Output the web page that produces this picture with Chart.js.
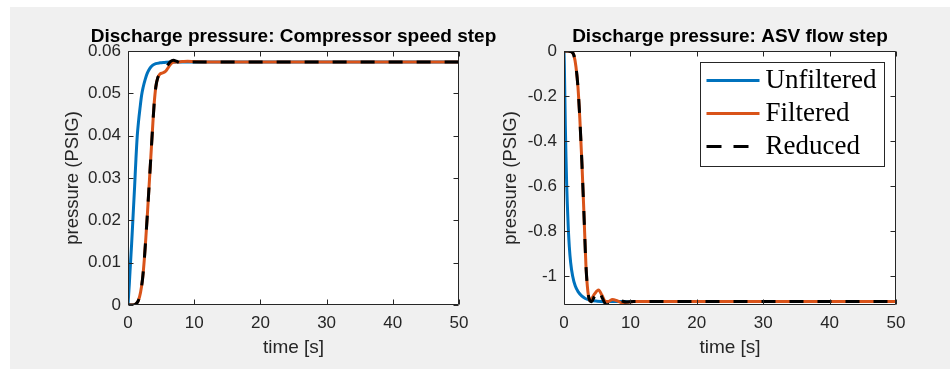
<!DOCTYPE html>
<html><head><meta charset="utf-8">
<script src="https://cdn.jsdelivr.net/npm/chart.js@4.4.1/dist/chart.umd.min.js"></script>
<style>
html,body{margin:0;padding:0;background:#fff;width:950px;height:369px;overflow:hidden;}
#panel{position:absolute;left:10px;top:7px;width:940px;height:362px;background:#f0f0f0;}
#c1{position:absolute;left:0px;top:7px;}
#c2{position:absolute;left:475px;top:7px;}
</style></head><body>
<div id="panel"></div>
<canvas id="c1" width="587" height="362"></canvas>
<canvas id="c2" width="475" height="362"></canvas>
<script>
// ---------- data ----------
const titles = ['Discharge pressure: Compressor speed step', 'Discharge pressure: ASV flow step'];
const xAxisTitle = 'time [s]';
const yAxisTitle = 'pressure (PSIG)';
const seriesNames = ['Unfiltered', 'Filtered', 'Reduced'];

const timeTicks = [0, 10, 20, 30, 40, 50];
const timeTickLabels = ['0', '10', '20', '30', '40', '50'];
const compTicks = [0, 0.01, 0.02, 0.03, 0.04, 0.05, 0.06];
const compTickLabels = ['0', '0.01', '0.02', '0.03', '0.04', '0.05', '0.06'];
const asvTicks = [-1, -0.8, -0.6, -0.4, -0.2, 0];
const asvTickLabels = ['-1', '-0.8', '-0.6', '-0.4', '-0.2', '0'];

// Compressor speed step
const compUnfilteredT = [0, 0.1, 0.2, 0.3, 0.4, 0.55, 0.7, 0.85, 1.0, 1.2, 1.4, 1.6, 1.8, 2.05, 2.3, 2.6, 2.9, 3.3, 3.7, 4.2, 4.8, 5.5, 6.5, 8, 50];
const compUnfilteredP = [0, 0.0025, 0.005, 0.0078, 0.0105, 0.0145, 0.019, 0.0235, 0.028, 0.0345, 0.040, 0.0435, 0.0463, 0.0495, 0.0515, 0.0533, 0.0547, 0.0559, 0.0566, 0.0570, 0.0572, 0.0573, 0.0574, 0.0574, 0.0574];
const compFilteredT = [0, 0.6, 1.0, 1.3, 1.6, 1.9, 2.2, 2.45, 2.7, 2.95, 3.2, 3.45, 3.7, 3.95, 4.2, 4.5, 4.8, 5.2, 5.6, 6.0, 6.4, 6.8, 7.4, 8.2, 9.0, 10.0, 12, 50];
const compFilteredP = [0, 0, 0.0001, 0.0004, 0.0012, 0.0030, 0.0062, 0.0105, 0.0160, 0.0220, 0.0285, 0.0350, 0.0415, 0.0475, 0.0515, 0.0537, 0.0545, 0.0548, 0.0551, 0.0559, 0.0568, 0.0573, 0.0574, 0.0575, 0.0576, 0.0575, 0.0574, 0.0574];
const compReducedT = [0, 0.6, 1.0, 1.3, 1.6, 1.9, 2.2, 2.45, 2.7, 2.95, 3.2, 3.45, 3.7, 3.95, 4.2, 4.5, 4.8, 5.2, 5.6, 6.0, 6.4, 6.85, 7.3, 7.8, 8.3, 9.0, 10.0, 50];
const compReducedP = [0, 0, 0.0001, 0.0004, 0.0012, 0.0030, 0.0062, 0.0105, 0.0160, 0.0220, 0.0285, 0.0350, 0.0415, 0.0475, 0.0515, 0.0537, 0.0545, 0.0551, 0.0558, 0.0567, 0.0575, 0.0578, 0.0576, 0.0572, 0.0571, 0.0573, 0.0574, 0.0574];

// ASV flow step
const asvUnfilteredT = [0, 0.05, 0.1, 0.2, 0.3, 0.4, 0.5, 0.65, 0.8, 1.0, 1.3, 1.7, 2.2, 2.7, 3.2, 4.0, 5.0, 6.0, 7.5, 50];
const asvUnfilteredP = [0, -0.06, -0.15, -0.33, -0.47, -0.59, -0.68, -0.79, -0.87, -0.94, -1.0, -1.045, -1.073, -1.09, -1.1, -1.108, -1.112, -1.114, -1.113, -1.113];
const asvFilteredT = [0, 0.5, 0.9, 1.2, 1.5, 1.8, 2.1, 2.4, 2.7, 3.0, 3.3, 3.6, 3.9, 4.2, 4.6, 5.2, 5.7, 6.2, 6.7, 7.3, 8.0, 8.8, 9.5, 10.5, 12, 50];
const asvFilteredP = [0, 0, -0.002, -0.005, -0.02, -0.07, -0.16, -0.31, -0.5, -0.72, -0.95, -1.07, -1.11, -1.1, -1.08, -1.062, -1.085, -1.112, -1.113, -1.104, -1.11, -1.12, -1.117, -1.113, -1.113, -1.113];
const asvReducedT = [0, 0.5, 0.9, 1.2, 1.5, 1.8, 2.1, 2.4, 2.7, 3.0, 3.3, 3.6, 3.9, 4.15, 4.6, 5.2, 5.8, 6.4, 7.0, 7.9, 8.6, 9.4, 10.5, 50];
const asvReducedP = [0, 0, -0.002, -0.005, -0.02, -0.07, -0.16, -0.31, -0.5, -0.72, -0.95, -1.07, -1.11, -1.114, -1.09, -1.062, -1.1, -1.128, -1.122, -1.104, -1.11, -1.116, -1.113, -1.113];

// ---------- styling ----------
const FONT = '"Liberation Sans", Arial, Helvetica, sans-serif';
Chart.defaults.font.family = FONT;
const AXIS_COLOR = '#262626';
const seriesColors = ['#0072BD', '#D95319', '#000000'];

function pts(t, p) { return t.map((x, i) => ({ x: x, y: p[i] })); }

function makeDatasets(u, f, r) {
  const data = [u, f, r];
  return seriesNames.map((name, i) => ({
    label: name,
    data: data[i],
    borderColor: seriesColors[i],
    backgroundColor: seriesColors[i],
    borderWidth: 3,
    borderDash: i === 2 ? [14, 14] : [],
    order: 2 - i,
    pointRadius: 0,
    fill: false,
    cubicInterpolationMode: 'monotone'
  }));
}

const framePlugin = {
  id: 'frameBox',
  beforeDraw(chart) {
    const { ctx, chartArea: a } = chart;
    ctx.save();
    ctx.fillStyle = '#ffffff';
    ctx.fillRect(a.left, a.top, a.right - a.left, a.bottom - a.top);
    ctx.restore();
  },
  afterDatasetsDraw(chart) {
    const { ctx, chartArea: a } = chart;
    const xs = chart.scales.x, ys = chart.scales.y;
    const L = Math.round(a.left) + 0.5, R = Math.round(a.right) - 0.5;
    const T = Math.round(a.top) + 0.5, B = Math.round(a.bottom) - 0.5;
    ctx.save();
    ctx.strokeStyle = AXIS_COLOR;
    ctx.lineWidth = 1;
    ctx.beginPath();
    ctx.rect(L, T, R - L, B - T);
    const tl = 5;
    xs.ticks.forEach(t => {
      const px = Math.round(xs.getPixelForValue(t.value)) + 0.5;
      ctx.moveTo(px, B); ctx.lineTo(px, B - tl);
      ctx.moveTo(px, T); ctx.lineTo(px, T + tl);
    });
    ys.ticks.forEach(t => {
      const py = Math.round(ys.getPixelForValue(t.value)) + 0.5;
      ctx.moveTo(L, py); ctx.lineTo(L + tl, py);
      ctx.moveTo(R, py); ctx.lineTo(R - tl, py);
    });
    ctx.stroke();
    ctx.restore();
  }
};

const legendPlugin = {
  id: 'boxLegend',
  afterDraw(chart) {
    const { ctx, chartArea: a } = chart;
    const ds = chart.data.datasets;
    ctx.save();
    ctx.font = '27px "Liberation Serif", "Times New Roman", serif';
    const tw = Math.max(...ds.map(d => ctx.measureText(d.label).width));
    const lineLen = 53, padL = 6, gap = 6, padR = 8, rowH = 33, h = 104;
    const w = Math.round(padL + lineLen + gap + tw + padR);
    const x0 = Math.round(a.right - 12 - w) + 0.5, y0 = Math.round(a.top + 11) + 0.5;
    ctx.fillStyle = '#ffffff';
    ctx.fillRect(x0, y0, w, h);
    ctx.strokeStyle = AXIS_COLOR;
    ctx.lineWidth = 1;
    ctx.strokeRect(x0, y0, w, h);
    ds.forEach((d, i) => {
      const cy = y0 + 18 + i * rowH;
      ctx.beginPath();
      ctx.setLineDash(d.borderDash && d.borderDash.length ? [15, 12] : []);
      ctx.lineWidth = d.borderWidth;
      ctx.strokeStyle = d.borderColor;
      ctx.moveTo(x0 + padL, cy);
      ctx.lineTo(x0 + padL + lineLen, cy);
      ctx.stroke();
      ctx.setLineDash([]);
      ctx.fillStyle = '#000000';
      ctx.textBaseline = 'alphabetic';
      ctx.textAlign = 'left';
      ctx.fillText(d.label, x0 + padL + lineLen + gap, cy + 7.5);
    });
    ctx.restore();
  }
};

function makeOptions(cfg) {
  const scales = {
    x: {
      type: 'linear', min: 0, max: 50,
      afterBuildTicks: s => { s.ticks = timeTicks.map(v => ({ value: v })); },
      afterFit: s => { s.height = 64; },
      grid: { display: false, drawTicks: false },
      border: { display: false },
      ticks: {
        padding: 8, color: AXIS_COLOR, font: { size: 17 }, maxRotation: 0, autoSkip: false,
        callback: (v, i) => timeTickLabels[i]
      },
      title: { display: true, text: xAxisTitle, color: AXIS_COLOR, font: { size: 19 }, padding: { top: 0, bottom: 9.6 } }
    },
    y: {
      type: 'linear', position: 'left', min: cfg.ymin, max: cfg.ymax,
      afterBuildTicks: s => { s.ticks = cfg.yTicks.map(v => ({ value: v })); },
      afterFit: s => { s.width = cfg.yWidth; },
      grid: { display: false, drawTicks: false },
      border: { display: false },
      ticks: {
        padding: 7, color: AXIS_COLOR, font: { size: 17 }, autoSkip: false,
        callback: (v, i) => cfg.yLabels[i]
      },
      title: { display: true, text: yAxisTitle, color: AXIS_COLOR, font: { size: 18.5 }, padding: { top: cfg.yTitlePad, bottom: 0 } }
    }
  };
  if (cfg.rightSpace) {
    // empty right-hand axis used only as spacer so the full-width title centres over the plot
    scales.spacer = {
      type: 'linear', position: 'right', display: true,
      afterFit: s => { s.width = cfg.rightSpace; },
      grid: { display: false, drawTicks: false },
      border: { display: false },
      ticks: { display: false }
    };
  }
  return {
    responsive: false,
    animation: false,
    devicePixelRatio: 1,
    layout: { padding: { left: 0, right: cfg.padRight, top: 0, bottom: 0 } },
    plugins: {
      legend: { display: false },
      tooltip: { enabled: false },
      title: {
        display: true, text: cfg.title, fullSize: cfg.titleFull, color: '#000000',
        font: { size: 19, weight: 'bold', family: FONT },
        padding: { top: 18, bottom: 3.2 }
      }
    },
    scales: scales
  };
}

new Chart(document.getElementById('c1'), {
  type: 'line',
  data: { datasets: makeDatasets(pts(compUnfilteredT, compUnfilteredP), pts(compFilteredT, compFilteredP), pts(compReducedT, compReducedP)) },
  options: makeOptions({ title: titles[0], titleFull: true, padRight: 0, rightSpace: 128, ymin: 0, ymax: 0.06, yTicks: compTicks, yLabels: compTickLabels, yWidth: 128, yTitlePad: 62 }),
  plugins: [framePlugin]
});

new Chart(document.getElementById('c2'), {
  type: 'line',
  data: { datasets: makeDatasets(pts(asvUnfilteredT, asvUnfilteredP), pts(asvFilteredT, asvFilteredP), pts(asvReducedT, asvReducedP)) },
  options: makeOptions({ title: titles[1], titleFull: false, padRight: 54, rightSpace: 0, ymin: -1.129, ymax: 0, yTicks: asvTicks, yLabels: asvTickLabels, yWidth: 89, yTitlePad: 24.4 }),
  plugins: [framePlugin, legendPlugin]
});
</script>
</body></html>
